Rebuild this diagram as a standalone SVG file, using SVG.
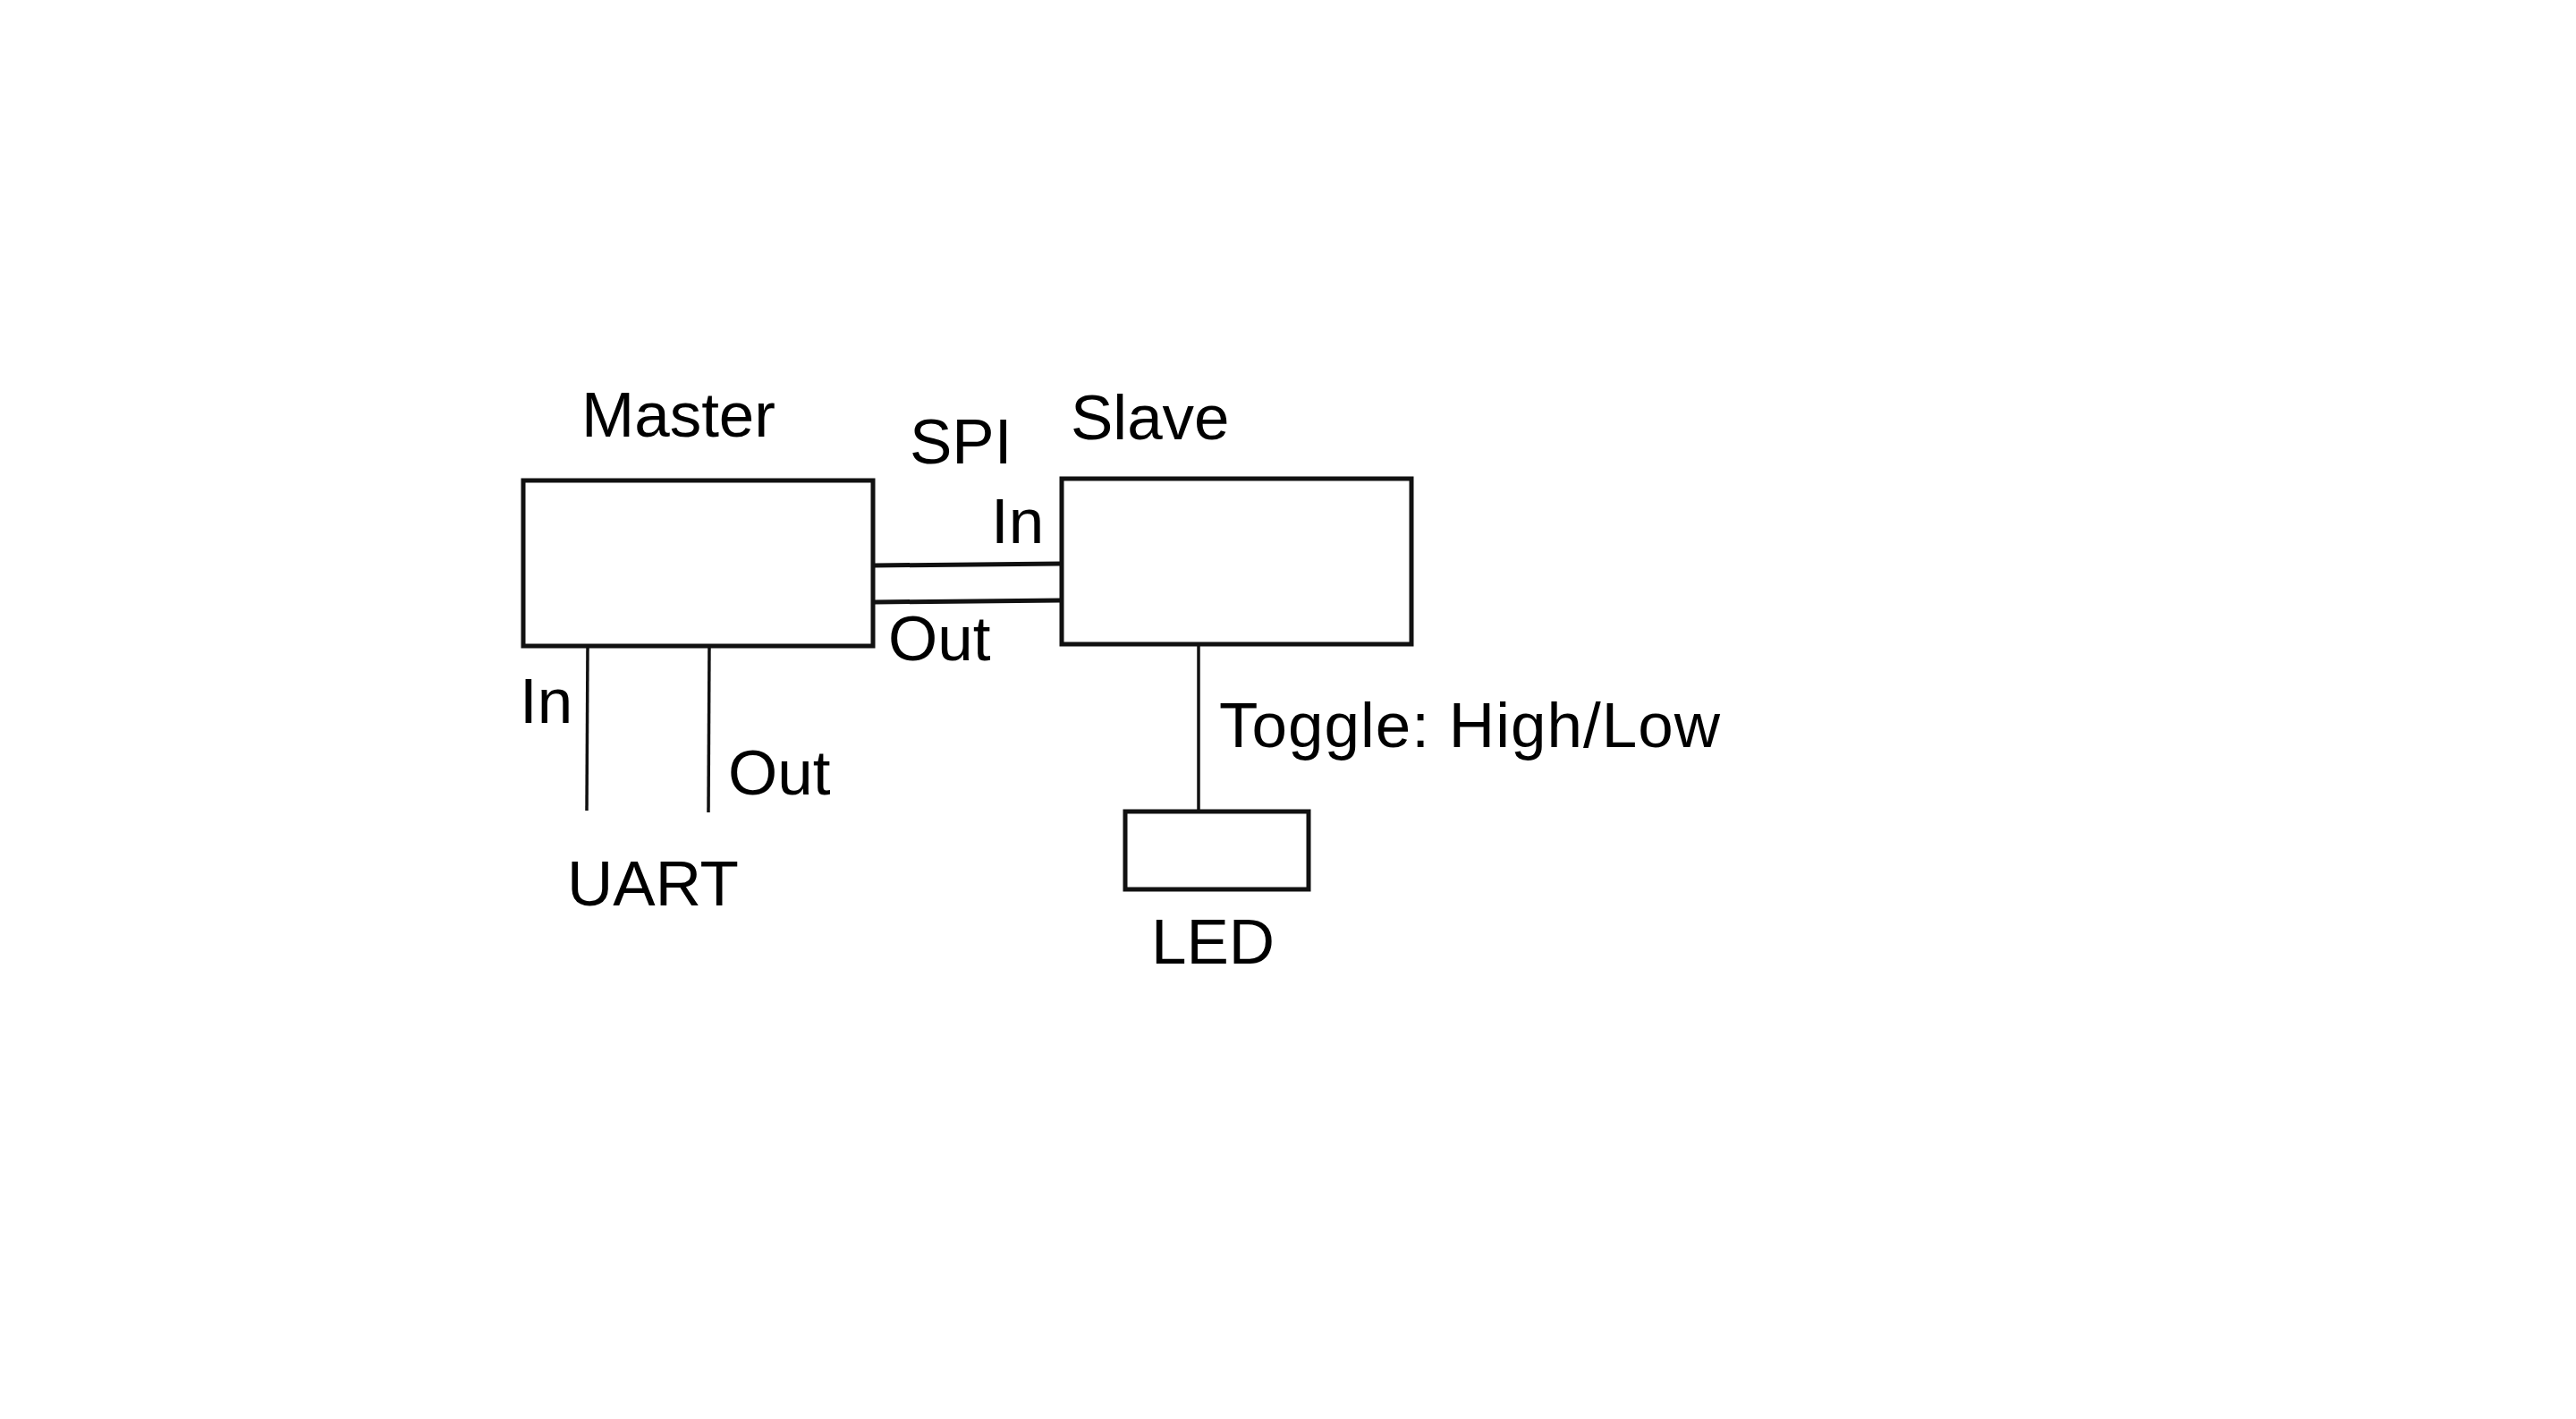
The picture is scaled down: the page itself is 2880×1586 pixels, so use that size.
<svg xmlns="http://www.w3.org/2000/svg" width="2880" height="1586" viewBox="0 0 2880 1586">
<style>
.box{fill:#fff;stroke:#111;stroke-width:5}
.ln{stroke:#111;stroke-width:5;fill:none;stroke-linecap:butt}
.thin{stroke:#111;stroke-width:3.5;fill:none}
.t{font-family:"Liberation Sans",Arial,sans-serif;font-size:71px;fill:#000}
</style>
<rect width="2880" height="1586" fill="#fff"/>
<g id="connectors">
<line class="ln" x1="977" y1="632" x2="1186" y2="630"/>
<line class="ln" x1="977" y1="673" x2="1186" y2="671"/>
<line class="thin" x1="657" y1="722" x2="656" y2="906"/>
<line class="thin" x1="793" y1="722" x2="792" y2="908"/>
<line class="thin" x1="1340" y1="716" x2="1340" y2="907"/>
</g>
<g id="master">
<rect class="box" x="585" y="537" width="391" height="185"/>
<text class="t" x="650" y="488">Master</text>
</g>
<g id="slave">
<rect class="box" x="1187" y="535" width="391" height="185"/>
<text class="t" x="1197" y="491">Slave</text>
</g>
<g id="led">
<rect class="box" x="1258" y="907" width="205" height="87"/>
<text class="t" x="1287" y="1077">LED</text>
</g>
<g id="labels">
<text class="t" x="1017" y="518">SPI</text>
<text class="t" x="1108" y="607">In</text>
<text class="t" x="993" y="738">Out</text>
<text class="t" x="581" y="808">In</text>
<text class="t" x="814" y="888">Out</text>
<text class="t" x="634" y="1012">UART</text>
<text class="t" x="1363" y="835" textLength="560">Toggle: High/Low</text>
</g>
</svg>
